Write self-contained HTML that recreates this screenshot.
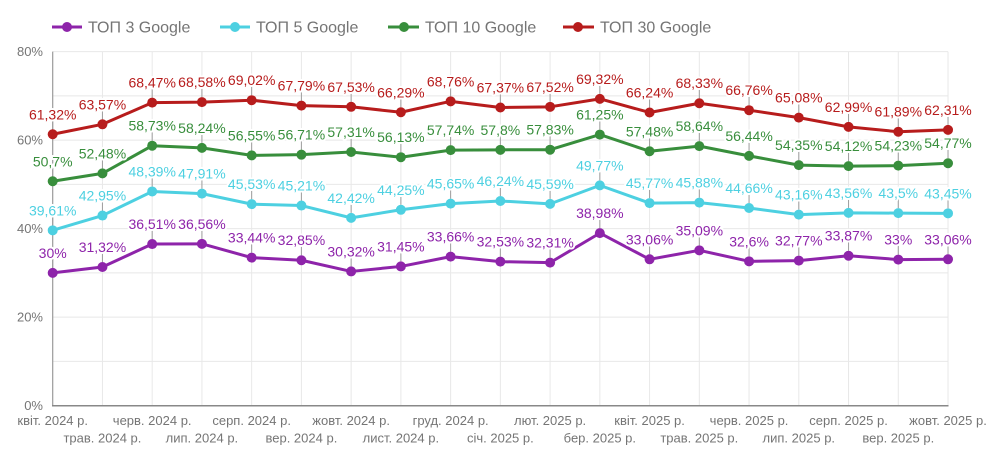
<!DOCTYPE html>
<html><head><meta charset="utf-8"><style>
html,body{margin:0;padding:0;background:#fff;}
svg{display:block;font-family:"Liberation Sans",sans-serif;}
.lbl{font-size:14px;text-anchor:middle;stroke:#fff;stroke-width:4;paint-order:stroke;stroke-linejoin:round;}
.ax{font-size:13px;fill:#757575;}
.xl{font-size:13px;fill:#757575;text-anchor:middle;}
.lg{font-size:16px;fill:#757575;}
</style></head><body>
<svg width="1007" height="457" viewBox="0 0 1007 457" xmlns="http://www.w3.org/2000/svg">
<!-- legend -->
<g>
<line x1="52" y1="27" x2="82" y2="27" stroke="#8e24aa" stroke-width="3"/><circle cx="67" cy="27" r="5" fill="#8e24aa"/>
<text class="lg" x="88" y="32.5">ТОП 3 Google</text>
<line x1="220" y1="27" x2="250" y2="27" stroke="#4dd0e1" stroke-width="3"/><circle cx="235" cy="27" r="5" fill="#4dd0e1"/>
<text class="lg" x="256" y="32.5">ТОП 5 Google</text>
<line x1="388" y1="27" x2="419" y2="27" stroke="#388e3c" stroke-width="3"/><circle cx="404" cy="27" r="5" fill="#388e3c"/>
<text class="lg" x="425" y="32.5">ТОП 10 Google</text>
<line x1="563" y1="27" x2="594" y2="27" stroke="#b71c1c" stroke-width="3"/><circle cx="578" cy="27" r="5" fill="#b71c1c"/>
<text class="lg" x="600" y="32.5">ТОП 30 Google</text>
</g>
<!-- grid -->
<g stroke="#e8e8e8" stroke-width="1">
<line x1="52.7" y1="361.35" x2="948" y2="361.35"/>
<line x1="52.7" y1="317.1" x2="948" y2="317.1"/>
<line x1="52.7" y1="272.85" x2="948" y2="272.85"/>
<line x1="52.7" y1="228.6" x2="948" y2="228.6"/>
<line x1="52.7" y1="184.35" x2="948" y2="184.35"/>
<line x1="52.7" y1="140.1" x2="948" y2="140.1"/>
<line x1="52.7" y1="95.85" x2="948" y2="95.85"/>
<line x1="52.7" y1="51.6" x2="948" y2="51.6"/>
<line x1="102.44" y1="51.6" x2="102.44" y2="405.6"/>
<line x1="152.18" y1="51.6" x2="152.18" y2="405.6"/>
<line x1="201.92" y1="51.6" x2="201.92" y2="405.6"/>
<line x1="251.66" y1="51.6" x2="251.66" y2="405.6"/>
<line x1="301.4" y1="51.6" x2="301.4" y2="405.6"/>
<line x1="351.14" y1="51.6" x2="351.14" y2="405.6"/>
<line x1="400.88" y1="51.6" x2="400.88" y2="405.6"/>
<line x1="450.62" y1="51.6" x2="450.62" y2="405.6"/>
<line x1="500.36" y1="51.6" x2="500.36" y2="405.6"/>
<line x1="550.1" y1="51.6" x2="550.1" y2="405.6"/>
<line x1="599.84" y1="51.6" x2="599.84" y2="405.6"/>
<line x1="649.58" y1="51.6" x2="649.58" y2="405.6"/>
<line x1="699.32" y1="51.6" x2="699.32" y2="405.6"/>
<line x1="749.06" y1="51.6" x2="749.06" y2="405.6"/>
<line x1="798.8" y1="51.6" x2="798.8" y2="405.6"/>
<line x1="848.54" y1="51.6" x2="848.54" y2="405.6"/>
<line x1="898.28" y1="51.6" x2="898.28" y2="405.6"/>
<line x1="948.02" y1="51.6" x2="948.02" y2="405.6"/>
</g>
<line x1="52.7" y1="51.6" x2="52.7" y2="405.6" stroke="#9a9a9a" stroke-width="1.2"/>
<line x1="52" y1="405.8" x2="948.5" y2="405.8" stroke="#888" stroke-width="1.5"/>
<!-- y labels -->
<g class="ax" text-anchor="end">
<text x="43" y="56">80%</text>
<text x="43" y="144.5">60%</text>
<text x="43" y="233">40%</text>
<text x="43" y="321.5">20%</text>
<text x="43" y="410">0%</text>
</g>
<!-- x labels -->
<g class="xl">
<text x="52.7" y="425">квіт. 2024 р.</text>
<text x="102.44" y="442.5">трав. 2024 р.</text>
<text x="152.18" y="425">черв. 2024 р.</text>
<text x="201.92" y="442.5">лип. 2024 р.</text>
<text x="251.66" y="425">серп. 2024 р.</text>
<text x="301.4" y="442.5">вер. 2024 р.</text>
<text x="351.14" y="425">жовт. 2024 р.</text>
<text x="400.88" y="442.5">лист. 2024 р.</text>
<text x="450.62" y="425">груд. 2024 р.</text>
<text x="500.36" y="442.5">січ. 2025 р.</text>
<text x="550.1" y="425">лют. 2025 р.</text>
<text x="599.84" y="442.5">бер. 2025 р.</text>
<text x="649.58" y="425">квіт. 2025 р.</text>
<text x="699.32" y="442.5">трав. 2025 р.</text>
<text x="749.06" y="425">черв. 2025 р.</text>
<text x="798.8" y="442.5">лип. 2025 р.</text>
<text x="848.54" y="425">серп. 2025 р.</text>
<text x="898.28" y="442.5">вер. 2025 р.</text>
<text x="948.02" y="425">жовт. 2025 р.</text>
</g>
<!-- leader lines -->
<g stroke="#9e9e9e" stroke-width="1">
<path d="M52.7 267.85V258.85M102.44 262.01V253.01M152.18 239.04V230.04M201.92 238.82V229.82M251.66 252.63V243.63M301.4 255.24V246.24M351.14 266.43V257.43M400.88 261.43V252.43M450.62 251.65V242.65M500.36 256.65V247.65M550.1 257.63V248.63M599.84 228.11V219.11M649.58 254.31V245.31M699.32 245.33V236.33M749.06 256.34V247.34M798.8 255.59V246.59M848.54 250.73V241.73M898.28 254.57V245.57M948.02 254.31V245.31"/>
<path d="M52.7 225.33V216.33M102.44 210.55V201.55M152.18 186.47V177.47M201.92 188.6V179.6M251.66 199.13V190.13M301.4 200.55V191.55M351.14 212.89V203.89M400.88 204.79V195.79M450.62 198.6V189.6M500.36 195.99V186.99M550.1 198.86V189.86M599.84 180.37V171.37M649.58 198.07V189.07M699.32 197.58V188.58M749.06 202.98V193.98M798.8 209.62V200.62M848.54 207.85V198.85M898.28 208.11V199.11M948.02 208.33V199.33"/>
<path d="M52.7 176.25V167.25M102.44 168.38V159.38M152.18 140.72V131.72M201.92 142.89V133.89M251.66 150.37V141.37M301.4 149.66V140.66M351.14 147V138M400.88 152.22V143.22M450.62 145.1V136.1M500.36 144.83V135.83M550.1 144.7V135.7M599.84 129.57V120.57M649.58 146.25V137.25M699.32 141.12V132.12M749.06 150.85V141.85M798.8 160.1V151.1M848.54 161.12V152.12M898.28 160.63V151.63M948.02 158.24V149.24"/>
<path d="M52.7 129.26V120.26M102.44 119.3V110.3M152.18 97.62V88.62M201.92 97.13V88.13M251.66 95.19V86.19M301.4 100.63V91.63M351.14 101.78V92.78M400.88 107.27V98.27M450.62 96.34V87.34M500.36 102.49V93.49M550.1 101.82V92.82M599.84 93.86V84.86M649.58 107.49V98.49M699.32 98.24V89.24M749.06 105.19V96.19M798.8 112.62V103.62M848.54 121.87V112.87M898.28 126.74V117.74M948.02 124.88V115.88"/>
</g>
<!-- series -->
<g fill="none" stroke-width="3" stroke-linejoin="round">
<polyline stroke="#8e24aa" points="52.7,272.85 102.44,267.01 152.18,244.04 201.92,243.82 251.66,257.63 301.4,260.24 351.14,271.43 400.88,266.43 450.62,256.65 500.36,261.65 550.1,262.63 599.84,233.11 649.58,259.31 699.32,250.33 749.06,261.34 798.8,260.59 848.54,255.73 898.28,259.57 948.02,259.31"/>
<polyline stroke="#4dd0e1" points="52.7,230.33 102.44,215.55 152.18,191.47 201.92,193.6 251.66,204.13 301.4,205.55 351.14,217.89 400.88,209.79 450.62,203.6 500.36,200.99 550.1,203.86 599.84,185.37 649.58,203.07 699.32,202.58 749.06,207.98 798.8,214.62 848.54,212.85 898.28,213.11 948.02,213.33"/>
<polyline stroke="#388e3c" points="52.7,181.25 102.44,173.38 152.18,145.72 201.92,147.89 251.66,155.37 301.4,154.66 351.14,152 400.88,157.22 450.62,150.1 500.36,149.83 550.1,149.7 599.84,134.57 649.58,151.25 699.32,146.12 749.06,155.85 798.8,165.1 848.54,166.12 898.28,165.63 948.02,163.24"/>
<polyline stroke="#b71c1c" points="52.7,134.26 102.44,124.3 152.18,102.62 201.92,102.13 251.66,100.19 301.4,105.63 351.14,106.78 400.88,112.27 450.62,101.34 500.36,107.49 550.1,106.82 599.84,98.86 649.58,112.49 699.32,103.24 749.06,110.19 798.8,117.62 848.54,126.87 898.28,131.74 948.02,129.88"/>
</g>
<g fill="#8e24aa">
<circle cx="52.7" cy="272.85" r="5"/><circle cx="102.44" cy="267.01" r="5"/><circle cx="152.18" cy="244.04" r="5"/><circle cx="201.92" cy="243.82" r="5"/><circle cx="251.66" cy="257.63" r="5"/><circle cx="301.4" cy="260.24" r="5"/><circle cx="351.14" cy="271.43" r="5"/><circle cx="400.88" cy="266.43" r="5"/><circle cx="450.62" cy="256.65" r="5"/><circle cx="500.36" cy="261.65" r="5"/><circle cx="550.1" cy="262.63" r="5"/><circle cx="599.84" cy="233.11" r="5"/><circle cx="649.58" cy="259.31" r="5"/><circle cx="699.32" cy="250.33" r="5"/><circle cx="749.06" cy="261.34" r="5"/><circle cx="798.8" cy="260.59" r="5"/><circle cx="848.54" cy="255.73" r="5"/><circle cx="898.28" cy="259.57" r="5"/><circle cx="948.02" cy="259.31" r="5"/>
</g>
<g fill="#4dd0e1">
<circle cx="52.7" cy="230.33" r="5"/><circle cx="102.44" cy="215.55" r="5"/><circle cx="152.18" cy="191.47" r="5"/><circle cx="201.92" cy="193.6" r="5"/><circle cx="251.66" cy="204.13" r="5"/><circle cx="301.4" cy="205.55" r="5"/><circle cx="351.14" cy="217.89" r="5"/><circle cx="400.88" cy="209.79" r="5"/><circle cx="450.62" cy="203.6" r="5"/><circle cx="500.36" cy="200.99" r="5"/><circle cx="550.1" cy="203.86" r="5"/><circle cx="599.84" cy="185.37" r="5"/><circle cx="649.58" cy="203.07" r="5"/><circle cx="699.32" cy="202.58" r="5"/><circle cx="749.06" cy="207.98" r="5"/><circle cx="798.8" cy="214.62" r="5"/><circle cx="848.54" cy="212.85" r="5"/><circle cx="898.28" cy="213.11" r="5"/><circle cx="948.02" cy="213.33" r="5"/>
</g>
<g fill="#388e3c">
<circle cx="52.7" cy="181.25" r="5"/><circle cx="102.44" cy="173.38" r="5"/><circle cx="152.18" cy="145.72" r="5"/><circle cx="201.92" cy="147.89" r="5"/><circle cx="251.66" cy="155.37" r="5"/><circle cx="301.4" cy="154.66" r="5"/><circle cx="351.14" cy="152" r="5"/><circle cx="400.88" cy="157.22" r="5"/><circle cx="450.62" cy="150.1" r="5"/><circle cx="500.36" cy="149.83" r="5"/><circle cx="550.1" cy="149.7" r="5"/><circle cx="599.84" cy="134.57" r="5"/><circle cx="649.58" cy="151.25" r="5"/><circle cx="699.32" cy="146.12" r="5"/><circle cx="749.06" cy="155.85" r="5"/><circle cx="798.8" cy="165.1" r="5"/><circle cx="848.54" cy="166.12" r="5"/><circle cx="898.28" cy="165.63" r="5"/><circle cx="948.02" cy="163.24" r="5"/>
</g>
<g fill="#b71c1c">
<circle cx="52.7" cy="134.26" r="5"/><circle cx="102.44" cy="124.3" r="5"/><circle cx="152.18" cy="102.62" r="5"/><circle cx="201.92" cy="102.13" r="5"/><circle cx="251.66" cy="100.19" r="5"/><circle cx="301.4" cy="105.63" r="5"/><circle cx="351.14" cy="106.78" r="5"/><circle cx="400.88" cy="112.27" r="5"/><circle cx="450.62" cy="101.34" r="5"/><circle cx="500.36" cy="107.49" r="5"/><circle cx="550.1" cy="106.82" r="5"/><circle cx="599.84" cy="98.86" r="5"/><circle cx="649.58" cy="112.49" r="5"/><circle cx="699.32" cy="103.24" r="5"/><circle cx="749.06" cy="110.19" r="5"/><circle cx="798.8" cy="117.62" r="5"/><circle cx="848.54" cy="126.87" r="5"/><circle cx="898.28" cy="131.74" r="5"/><circle cx="948.02" cy="129.88" r="5"/>
</g>
<!-- data labels -->
<g class="lbl" fill="#8e24aa">
<text x="52.7" y="257.85">30%</text><text x="102.44" y="252.01">31,32%</text><text x="152.18" y="229.04">36,51%</text><text x="201.92" y="228.82">36,56%</text><text x="251.66" y="242.63">33,44%</text><text x="301.4" y="245.24">32,85%</text><text x="351.14" y="256.43">30,32%</text><text x="400.88" y="251.43">31,45%</text><text x="450.62" y="241.65">33,66%</text><text x="500.36" y="246.65">32,53%</text><text x="550.1" y="247.63">32,31%</text><text x="599.84" y="218.11">38,98%</text><text x="649.58" y="244.31">33,06%</text><text x="699.32" y="235.33">35,09%</text><text x="749.06" y="246.34">32,6%</text><text x="798.8" y="245.59">32,77%</text><text x="848.54" y="240.73">33,87%</text><text x="898.28" y="244.57">33%</text><text x="948.02" y="244.31">33,06%</text>
</g>
<g class="lbl" fill="#4dd0e1">
<text x="52.7" y="215.33">39,61%</text><text x="102.44" y="200.55">42,95%</text><text x="152.18" y="176.47">48,39%</text><text x="201.92" y="178.6">47,91%</text><text x="251.66" y="189.13">45,53%</text><text x="301.4" y="190.55">45,21%</text><text x="351.14" y="202.89">42,42%</text><text x="400.88" y="194.79">44,25%</text><text x="450.62" y="188.6">45,65%</text><text x="500.36" y="185.99">46,24%</text><text x="550.1" y="188.86">45,59%</text><text x="599.84" y="170.37">49,77%</text><text x="649.58" y="188.07">45,77%</text><text x="699.32" y="187.58">45,88%</text><text x="749.06" y="192.98">44,66%</text><text x="798.8" y="199.62">43,16%</text><text x="848.54" y="197.85">43,56%</text><text x="898.28" y="198.11">43,5%</text><text x="948.02" y="198.33">43,45%</text>
</g>
<g class="lbl" fill="#388e3c">
<text x="52.7" y="166.25">50,7%</text><text x="102.44" y="158.38">52,48%</text><text x="152.18" y="130.72">58,73%</text><text x="201.92" y="132.89">58,24%</text><text x="251.66" y="140.37">56,55%</text><text x="301.4" y="139.66">56,71%</text><text x="351.14" y="137">57,31%</text><text x="400.88" y="142.22">56,13%</text><text x="450.62" y="135.1">57,74%</text><text x="500.36" y="134.83">57,8%</text><text x="550.1" y="134.7">57,83%</text><text x="599.84" y="119.57">61,25%</text><text x="649.58" y="136.25">57,48%</text><text x="699.32" y="131.12">58,64%</text><text x="749.06" y="140.85">56,44%</text><text x="798.8" y="150.1">54,35%</text><text x="848.54" y="151.12">54,12%</text><text x="898.28" y="150.63">54,23%</text><text x="948.02" y="148.24">54,77%</text>
</g>
<g class="lbl" fill="#b71c1c">
<text x="52.7" y="119.26">61,32%</text><text x="102.44" y="109.3">63,57%</text><text x="152.18" y="87.62">68,47%</text><text x="201.92" y="87.13">68,58%</text><text x="251.66" y="85.19">69,02%</text><text x="301.4" y="90.63">67,79%</text><text x="351.14" y="91.78">67,53%</text><text x="400.88" y="97.27">66,29%</text><text x="450.62" y="86.34">68,76%</text><text x="500.36" y="92.49">67,37%</text><text x="550.1" y="91.82">67,52%</text><text x="599.84" y="83.86">69,32%</text><text x="649.58" y="97.49">66,24%</text><text x="699.32" y="88.24">68,33%</text><text x="749.06" y="95.19">66,76%</text><text x="798.8" y="102.62">65,08%</text><text x="848.54" y="111.87">62,99%</text><text x="898.28" y="116.74">61,89%</text><text x="948.02" y="114.88">62,31%</text>
</g>
</svg>
</body></html>
